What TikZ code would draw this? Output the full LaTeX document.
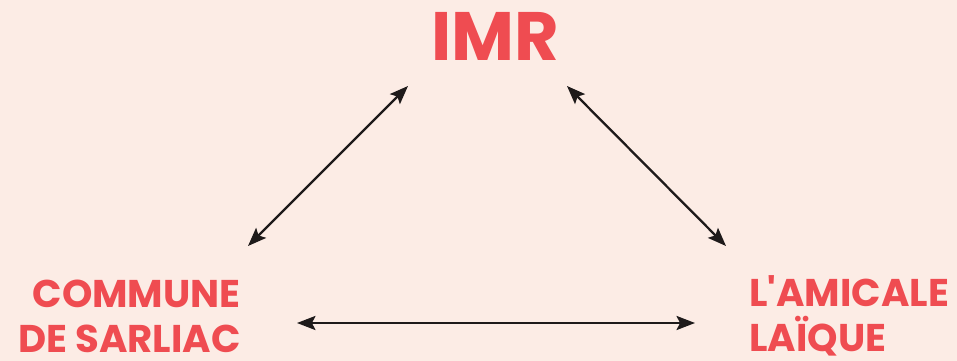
\documentclass[tikz,border=0pt]{standalone}
\usepackage{fontspec}
\setsansfont{Poppins}
\usepackage{xcolor}
\usetikzlibrary{arrows.meta, positioning}
\definecolor{bgpink}{HTML}{FCECE5}
\definecolor{titlered}{HTML}{EF4C51}
\definecolor{arrowblack}{HTML}{1E1A1A}
\tikzset{
  title/.style  = {text=titlered, font=\sffamily\bfseries\fontsize{39}{40}\selectfont, inner sep=0pt},
  party/.style  = {text=titlered, font=\sffamily\bfseries\fontsize{22}{25.5}\selectfont, inner sep=0pt},
  darrow/.style = {line width=1.3pt, draw=arrowblack, {Stealth[length=10.5pt,width=8pt,inset=2pt]}-{Stealth[length=10.5pt,width=8pt,inset=2pt]}},
}

\begin{document}
\begin{tikzpicture}[x=0.02cm, y=-0.02cm]

    %% Background
    \fill[bgpink] (0,0) rectangle (957,361);
    \useasboundingbox (0,0) rectangle (957,361);

    %% Partners
    \node[title] (imr) at (495.5,36) {IMR};
    \node[party, align=right, anchor=east] (commune) at (241,316) {COMMUNE\\DE SARLIAC};
    \node[party, align=left, anchor=west] (amicale) at (749,316) {L\textquotesingle AMICALE\\LA\"IQUE};

    %% Arrow ends
    \coordinate (imr-l) at (408,86);
    \coordinate (imr-r) at (567,86);
    \coordinate (com-t) at (248,246);
    \coordinate (ami-t) at (726,246);
    \coordinate (com-r) at (297,323);
    \coordinate (ami-l) at (695,323);

    \draw[darrow] (imr-l) -- (com-t);
    \draw[darrow] (imr-r) -- (ami-t);
    \draw[darrow] (com-r) -- (ami-l);

\end{tikzpicture}
\end{document}
